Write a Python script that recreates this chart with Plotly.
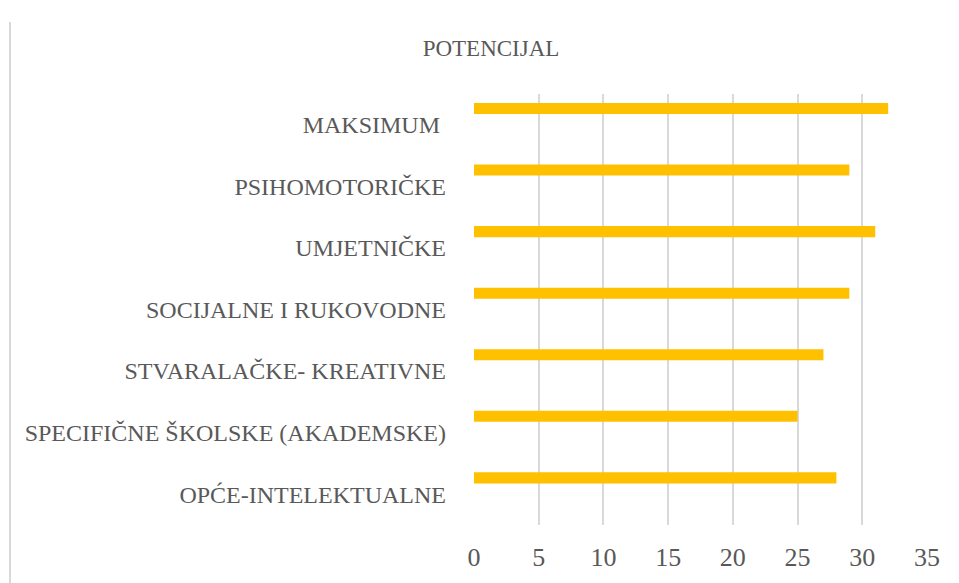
import plotly.graph_objects as go

# kategorije odozdo prema gore (kao u Excelu)
kategorije = [
    "OPĆE-INTELEKTUALNE",
    "SPECIFIČNE ŠKOLSKE (AKADEMSKE)",
    "STVARALAČKE- KREATIVNE",
    "SOCIJALNE I RUKOVODNE",
    "UMJETNIČKE",
    "PSIHOMOTORIČKE",
    "MAKSIMUM\u00a0",
]
vrijednosti = [28, 25, 27, 29, 31, 29, 32]
x_tickovi = [0, 5, 10, 15, 20, 25, 30, 35]

siva = "#595959"
font_serif = "Liberation Serif, Times New Roman, serif"

# stranica ima 8 px margine, pa je figura za toliko manja
W, H = 951, 575

fig = go.Figure(go.Bar(
    y=kategorije,
    x=vrijednosti,
    orientation="h",
    marker=dict(color="#FFC000", line=dict(width=0)),
    width=0.18,
    offset=0.175,
    hoverinfo="x+y",
))

fig.update_layout(
    width=W,
    height=H,
    margin=dict(l=466, r=32, t=86, b=58),
    paper_bgcolor="white",
    plot_bgcolor="white",
    showlegend=False,
    title=dict(
        text="POTENCIJAL",
        x=483 / W,
        xanchor="center",
        y=1 - 40 / H,
        yanchor="middle",
        font=dict(family=font_serif, size=23, color=siva),
    ),
    xaxis=dict(
        range=[0, 35],
        tickvals=x_tickovi,
        showgrid=True,
        gridcolor="#d9d9d9",
        gridwidth=1.5,
        zeroline=False,
        showline=False,
        ticks="",
        automargin=False,
        ticklabelstandoff=14,
        tickfont=dict(family=font_serif, size=26, color=siva),
    ),
    yaxis=dict(
        type="category",
        categoryorder="array",
        categoryarray=kategorije,
        showgrid=False,
        zeroline=False,
        showline=False,
        ticks="",
        automargin=False,
        ticklabelstandoff=27,
        tickfont=dict(family=font_serif, size=24, color=siva),
    ),
    shapes=[
        dict(type="line", xref="paper", yref="paper",
             x0=-464 / 453, x1=-464 / 453, y0=-1.0, y1=1 + 72 / 431,
             line=dict(color="#d9d9d9", width=2)),
    ],
)

fig.write_html("out.html")
